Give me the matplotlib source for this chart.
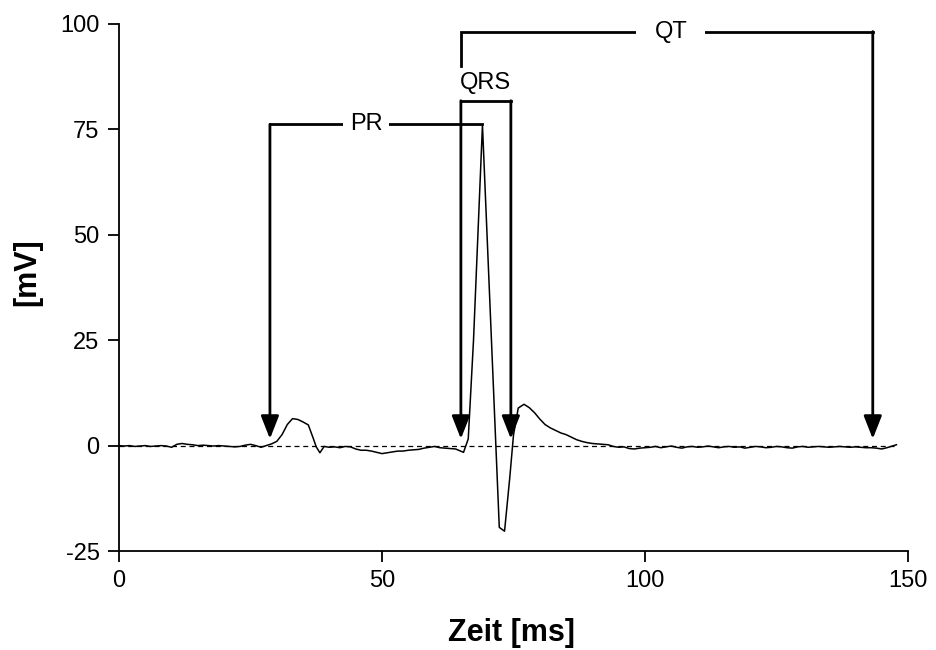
import matplotlib
matplotlib.use("Agg")
import matplotlib.pyplot as plt

plt.rcParams['font.family'] = ['Liberation Sans', 'DejaVu Sans']
plt.rcParams['axes.unicode_minus'] = False

# ECG trace (time in ms, amplitude in mV)
time_ms = [0, 1, 2, 3, 4, 5, 6, 7, 8, 9, 10, 11, 12, 13, 14, 15, 16, 17, 18, 19,
           20, 21, 22, 23, 24, 25, 26, 27, 28, 29,
           30, 31, 32, 33, 34, 35, 36, 37, 37.5, 38.2, 39, 40, 41, 42, 43, 44,
           45, 46, 47, 48, 49, 50, 51, 52, 53, 54, 55, 56, 57, 58, 59, 60,
           61, 62, 63, 64, 65.5, 66.4, 67.4, 69.1, 72.3, 73.3, 74.3, 75.0,
           75.9, 77.0, 78, 79, 80, 81, 82, 83, 84, 85, 86, 87, 88, 89, 90,
           91, 92, 93, 94, 95, 96, 97, 98, 99, 100,
           101, 102, 103, 104, 105, 106, 107, 108, 109, 110, 111, 112, 113, 114,
           115, 116, 117, 118, 119, 120, 121, 122, 123, 124, 125, 126, 127, 128,
           129, 130, 131, 132, 133, 134, 135, 136, 137, 138, 139, 140, 141, 142,
           143, 144, 145, 146, 147, 147.8]
voltage_mv = [0.0, -0.1, 0.0, -0.2, -0.1, 0.0, -0.2, -0.1, 0.0, -0.1, -0.4, 0.3, 0.5, 0.3, 0.2, 0.0, 0.1, 0.0, -0.1, 0.0,
              -0.1, -0.2, -0.3, -0.2, 0.1, 0.3, 0.0, -0.4, 0.0, 0.4,
              1.0, 2.6, 5.0, 6.4, 6.2, 5.6, 4.9, 1.5, -0.3, -1.7, -0.2, -0.4, -0.3, -0.5, -0.2, -0.3,
              -0.8, -1.1, -1.1, -1.3, -1.6, -1.9, -1.7, -1.5, -1.3, -1.3, -1.1, -1.0, -0.9, -0.6, -0.4, -0.2,
              -0.5, -0.6, -0.7, -0.8, -1.6, 1.6, 25.0, 76.0, -19.4, -20.3, -7.5, 2.5,
              8.9, 9.8, 9.0, 7.8, 6.3, 5.0, 4.2, 3.6, 3.0, 2.6, 2.0, 1.4, 1.0, 0.7, 0.5,
              0.4, 0.3, 0.2, -0.2, -0.4, -0.3, -0.7, -0.8, -0.6, -0.5,
              -0.4, -0.2, -0.5, -0.3, -0.1, -0.4, -0.6, -0.3, -0.2, -0.4, -0.3, -0.1, -0.3, -0.5,
              -0.3, -0.2, -0.4, -0.3, -0.6, -0.4, -0.2, -0.3, -0.5, -0.4, -0.2, -0.3, -0.5, -0.6,
              -0.3, -0.2, -0.4, -0.3, -0.2, -0.3, -0.4, -0.3, -0.2, -0.3, -0.4, -0.3, -0.4, -0.5,
              -0.5, -0.6, -0.8, -0.5, -0.1, 0.2]

# Interval annotations: start (ms), end (ms), bracket level (mV)
pr_interval = (28.7, 69.1, 76.2)
qrs_interval = (65.0, 74.5, 81.8)
qt_interval = (65.0, 143.3, 98.2)
qt_left_bottom = 90.0
arrow_tip = 1.6

x_ticks = [0, 50, 100, 150]
y_ticks = [-25, 0, 25, 50, 75, 100]

fig = plt.figure(figsize=(9.36, 6.5), dpi=100)
ax = fig.add_axes([0.1271, 0.1523, 0.843, 0.8108])

ax.axhline(0, xmin=0, xmax=147.8 / 150, color='black', lw=0.9, ls=(0, (4, 3)), zorder=1)
ax.plot(time_ms, voltage_mv, color='black', lw=1.1, zorder=3)

ax.set_xlim(0, 150)
ax.set_ylim(-25, 100)
ax.set_xticks(x_ticks)
ax.set_yticks(y_ticks)
for s in ['top', 'right']:
    ax.spines[s].set_visible(False)
for s in ['left', 'bottom']:
    ax.spines[s].set_linewidth(1.3)
ax.tick_params(direction='out', length=8, width=1.3, labelsize=17, pad=6)

fig.text(512 / 936, 1 - 633 / 650, 'Zeit [ms]', fontsize=22, fontweight='bold',
         ha='center', va='center')
fig.text(27 / 936, 1 - 272 / 650, '[mV]', fontsize=22, fontweight='bold',
         ha='center', va='center', rotation=90)

lw_b = 2.0
arrow_kw = dict(arrowstyle='-|>,head_length=1.4,head_width=0.55', lw=lw_b, color='black',
                shrinkA=0, shrinkB=0, mutation_scale=10)


def down_arrow(x, top):
    ax.annotate('', xy=(x, arrow_tip), xytext=(x, top), arrowprops=arrow_kw, zorder=5)


# PR
x0, x1, lev = pr_interval
down_arrow(x0, lev)
ax.plot([x0, x1], [lev, lev], color='black', lw=lw_b, solid_capstyle='projecting', zorder=4)
ax.text(47.0, lev, 'PR', fontsize=17, ha='center', va='center', zorder=6,
        bbox=dict(facecolor='white', edgecolor='none', pad=5))

# QRS
x0, x1, lev = qrs_interval
down_arrow(x0, lev)
down_arrow(x1, lev)
ax.plot([x0, x1], [lev, lev], color='black', lw=lw_b, solid_capstyle='projecting', zorder=4)
ax.text((x0 + x1) / 2, lev + 4.3, 'QRS', fontsize=17, ha='center', va='center', zorder=6)

# QT
x0, x1, lev = qt_interval
down_arrow(x1, lev)
ax.plot([x0, x0, x1], [qt_left_bottom, lev, lev], color='black', lw=lw_b,
        solid_joinstyle='miter', zorder=4)
ax.text(104.9, lev, 'QT', fontsize=17, ha='center', va='center', zorder=6,
        bbox=dict(facecolor='white', edgecolor='none', pad=13))

fig.savefig('out.png', dpi=100)
